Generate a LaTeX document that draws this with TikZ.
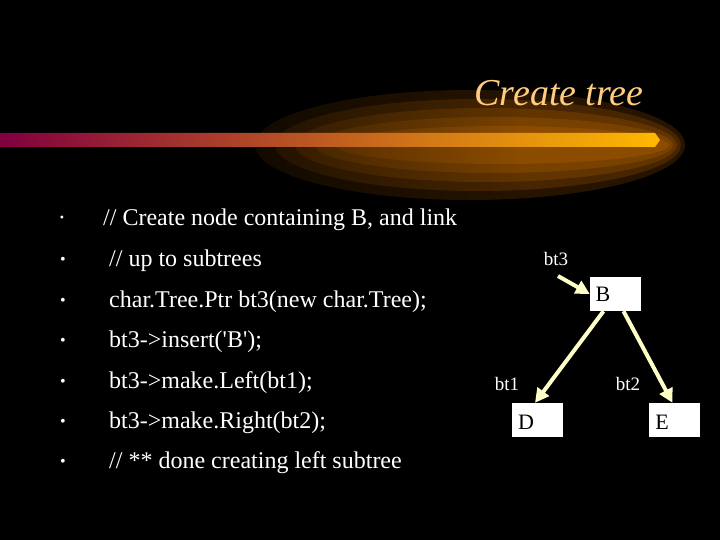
\documentclass[tikz,border=0pt]{standalone}
\usepackage{fontspec}
\setmainfont{Liberation Serif}
\usetikzlibrary{fadings,arrows.meta}
\tikzfading[name=leftopaque,left color=transparent!0,right color=transparent!100]
\begin{document}
\begin{tikzpicture}[x=1pt,y=-1pt,
  code/.style={anchor=west,text=white,font=\fontsize{24}{28}\selectfont,inner sep=0},
  bul/.style={text=white,font=\fontsize{16}{18}\selectfont,inner sep=0},
  lbl/.style={text=white,font=\fontsize{19}{22}\selectfont,inner sep=0},
  box/.style={fill=white,minimum width=51pt,minimum height=34pt,inner sep=0},
  boxt/.style={text=black,font=\fontsize{22}{24}\selectfont,inner sep=0},
  arr/.style={draw={rgb,255:red,255;green,255;blue,200},line width=4pt,-{Triangle[length=14pt,width=14pt]}}]
\useasboundingbox (0,0) rectangle (720,540);
\clip (0,0) rectangle (720,540);
\fill[black] (0,0) rectangle (720,540);
% glow
\foreach \i in {0,...,4}{
  \fill[color={rgb,255:red,255;green,140;blue,0},opacity=0.15]
    ({470+8*\i},145) ellipse ({215-12*\i} and {55-9*\i});
}
\fill[black,path fading=leftopaque] (0,80) rectangle (520,210);
\shade[left color={rgb,255:red,128;green,0;blue,64},right color={rgb,255:red,255;green,185;blue,0}]
  (0,133) -- (655,133) -- (660,140) -- (655,147) -- (0,147) -- cycle;
\node[text={rgb,255:red,255;green,204;blue,128},font=\fontsize{38}{40}\selectfont\itshape,inner sep=0] (title) at (559,93) {Create tree};
% bullets and code
\node[bul,font=\fontsize{12}{14}\selectfont] (b1) at (62,219) {•};
\node[code] (t1) at (103,220) {// Create node containing B, and link};
\foreach \y/\t [count=\k] in {261/{// up to subtrees},302/{char.Tree.Ptr bt3(new char.Tree);},342/{bt3->insert(\textquotesingle B\textquotesingle);},383/{bt3->make.Left(bt1);},423/{bt3->make.Right(bt2);},463/{// ** done creating left subtree}}{
  \node[bul] (bb\k) at (63,\y) {•};
  \node[code] (tt\k) at (109,\y) {\t};
}
% tree
\node[box] (B) at (615.5,294) {};
\node[boxt] (Bt) at (603,294) {B};
\node[box] (D) at (537,420) {};
\node[boxt] (Dt) at (526,422) {D};
\node[box] (E) at (674.5,420) {};
\node[boxt] (Et) at (662,422) {E};
\node[lbl] (l3) at (556,259) {bt3};
\node[lbl] (l1) at (507,384) {bt1};
\node[lbl] (l2) at (628,384) {bt2};
\coordinate (s3) at (558,276);
\draw[arr] (s3) -- (B.west);
\draw[arr] ([xshift=-12pt]B.south) -- ([xshift=-2pt]D.north);
\draw[arr] ([xshift=8pt]B.south) -- ([xshift=-2pt]E.north);
\end{tikzpicture}
\end{document}
